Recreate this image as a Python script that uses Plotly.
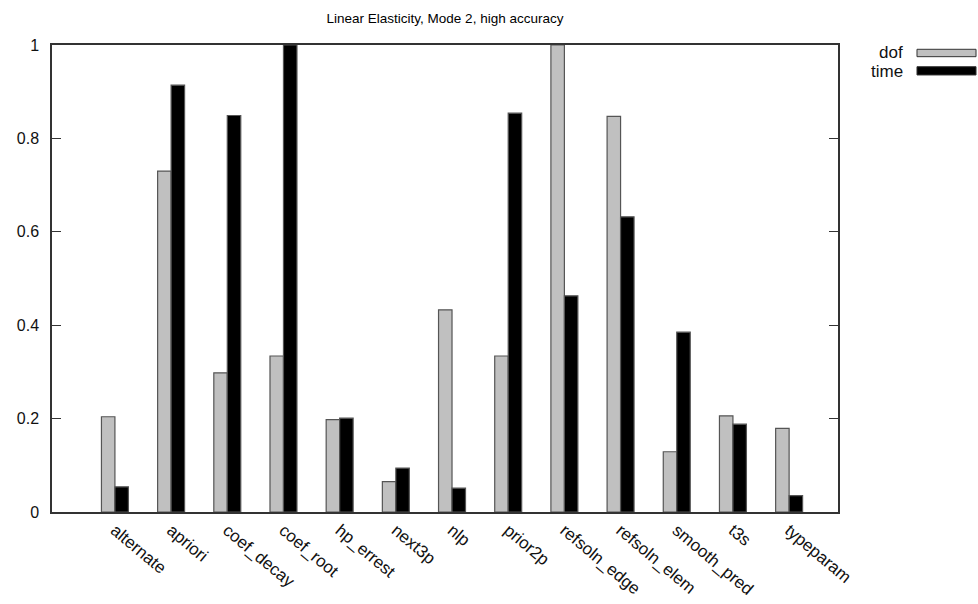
import plotly.graph_objects as go

categories = ["alternate", "apriori", "coef_decay", "coef_root", "hp_errest", "next3p",
              "nlp", "prior2p", "refsoln_edge", "refsoln_elem", "smooth_pred", "t3s", "typeparam"]
dof = [0.204, 0.730, 0.298, 0.334, 0.198, 0.065, 0.433, 0.334, 1.0, 0.847, 0.129, 0.206, 0.179]
time = [0.054, 0.914, 0.849, 1.0, 0.201, 0.094, 0.051, 0.854, 0.463, 0.632, 0.385, 0.188, 0.035]
yticks = [0, 0.2, 0.4, 0.6, 0.8, 1]
ytick_labels = ["0", "0.2", "0.4", "0.6", "0.8", "1"]
title = "Linear Elasticity, Mode 2, high accuracy"

FONT = "Liberation Sans, Arial, sans-serif"
idx = list(range(len(categories)))

fig = go.Figure()
fig.add_trace(go.Bar(x=idx, y=dof, name="dof", marker=dict(color="#c0c0c0", line=dict(color="#555555", width=1.2))))
fig.add_trace(go.Bar(x=idx, y=time, name="time", marker=dict(color="#000000", line=dict(color="#555555", width=1.2))))

fig.update_layout(
    width=978, height=604,
    margin=dict(l=52, r=140, t=45, b=92),
    paper_bgcolor="white", plot_bgcolor="white",
    barmode="group", bargap=0.52, bargroupgap=0,
    showlegend=False,
    font=dict(family=FONT, size=16, color="#000000"),
    title=dict(text=title, x=445 / 978, xanchor="center", y=1 - 18 / 604, yanchor="middle",
               font=dict(family=FONT, size=13.5, color="#000000")),
    xaxis=dict(range=[-1.12, 12.87], tickmode="array", tickvals=idx, ticktext=categories,
               tickangle=40, ticks="", showgrid=False, zeroline=False, automargin=False,
               showline=True, linecolor="#333333", linewidth=1.5, mirror=True,
               tickfont=dict(family=FONT, size=17, color="#111111")),
    yaxis=dict(range=[0, 1], tickmode="array", tickvals=yticks, ticktext=ytick_labels,
               ticks="inside", ticklen=9, tickcolor="#333333", showgrid=False, zeroline=False,
               automargin=False,
               showline=True, linecolor="#333333", linewidth=1.5, mirror="allticks",
               tickfont=dict(family=FONT, size=16, color="#111111"), ticklabelstandoff=8),
)

# custom legend (gnuplot style: text then sample)
legend_items = [("dof", "#c0c0c0", 0.983, 0.9908, 0.975), ("time", "#000000", 0.944, 0.9535, 0.9358)]
for name, color, ty, y0, y1 in legend_items:
    fig.add_annotation(xref="paper", yref="paper", x=1.085, y=ty, text=name, showarrow=False,
                       xanchor="right", yanchor="middle", font=dict(family=FONT, size=17, color="#111111"))
    fig.add_shape(type="rect", xref="paper", yref="paper", x0=1.1005, x1=1.1756, y0=y1, y1=y0,
                  fillcolor=color, line=dict(color="#333333", width=1))

fig.write_html("out.html")
